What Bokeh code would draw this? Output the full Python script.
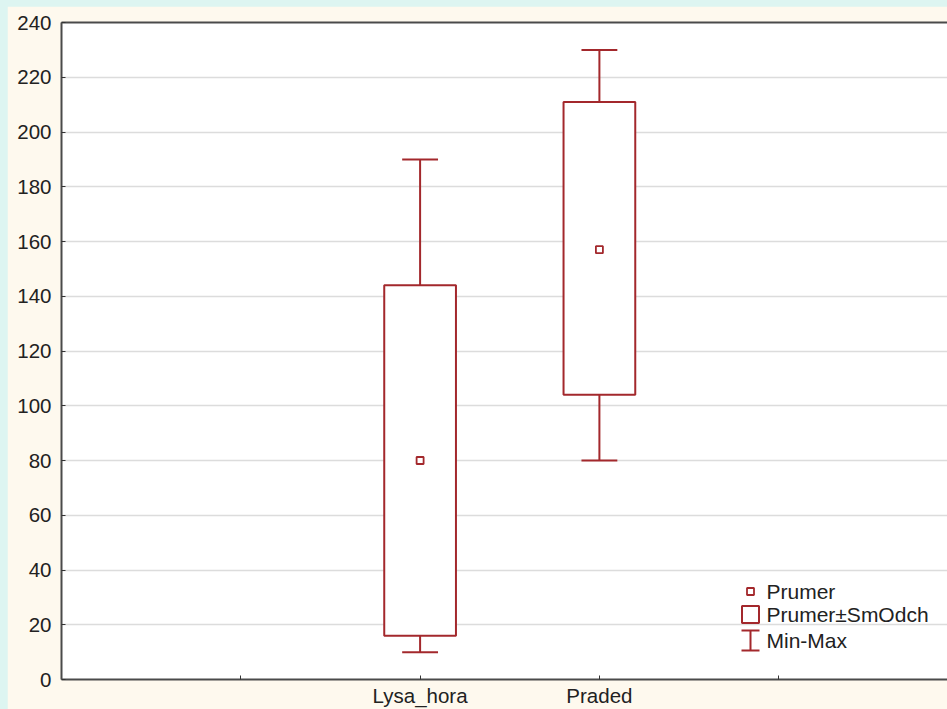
from bokeh.plotting import figure
from bokeh.models import FixedTicker, LinearAxis, Range1d, ColumnDataSource
from bokeh.embed import file_html
from bokeh.resources import INLINE
from bokeh.core.properties import value

# ---- data ----
categories = ["Lysa_hora", "Praded"]
means = [80, 157]
sd_low = [16, 104]
sd_high = [144, 211]
mins = [10, 80]
maxs = [190, 230]
y_ticks = list(range(0, 241, 20))
legend_labels = ["Prumer", "Prumer\u00b1SmOdch", "Min-Max"]

# ---- layout / style ----
FONT = "Liberation Sans"
RED = "#a3282c"
OX, OY = 7, 6          # page offset (mint strip)
W, H = 947 - OX, 709 - OY
BL, BR, BT, BB = 54, 0, 16, 30
FRAME_W = W - BL - BR
FRAME_H = H - BT - BB
STEP_PX = 179.3
X_END = FRAME_W / STEP_PX
Y_END = 240

positions = [i + 2 for i in range(len(categories))]
x_ticks = [1] + positions + [positions[-1] + 1]
overrides = {t: "" for t in x_ticks}
for pos, c in zip(positions, categories):
    overrides[pos] = c

p = figure(width=W, height=H, x_range=Range1d(0, X_END), y_range=Range1d(0, Y_END),
           output_backend="svg", toolbar_location=None,
           min_border_left=BL, min_border_right=BR, min_border_top=BT, min_border_bottom=BB,
           background_fill_color="white", border_fill_color="#fef9ee",
           outline_line_color=None)

# axes
for ax in (p.xaxis[0], p.yaxis[0]):
    ax.axis_line_color = "#4a4a4a"
    ax.axis_line_width = 2
    ax.major_tick_line_color = "#333333"
    ax.major_tick_in = 4
    ax.major_tick_out = 0
    ax.minor_tick_line_color = None
    ax.major_label_text_font = FONT
    ax.major_label_text_font_size = "20.5px"
    ax.major_label_text_color = "#222222"

p.yaxis.ticker = FixedTicker(ticks=y_ticks)
p.yaxis.major_label_standoff = 10
p.xaxis.ticker = FixedTicker(ticks=x_ticks)
p.xaxis.major_label_overrides = overrides
p.xaxis.major_label_standoff = 4

top = LinearAxis(ticker=FixedTicker(ticks=[]), major_tick_in=0, major_tick_out=0,
                 major_label_text_font_size="0px", major_label_standoff=0,
                 axis_line_color="#4a4a4a", axis_line_width=2, minor_tick_line_color=None)
p.add_layout(top, "above")

p.xgrid.visible = False
p.ygrid.ticker = FixedTicker(ticks=y_ticks)
p.ygrid.grid_line_color = "#dcdcdc"
p.ygrid.grid_line_width = 1.5

# ---- data marks ----
src = ColumnDataSource(dict(x=positions, mean=means, lo=sd_low, hi=sd_high, mn=mins, mx=maxs,
                            cl=[x - 0.1 for x in positions], cr=[x + 0.1 for x in positions]))
p.segment(x0="x", y0="hi", x1="x", y1="mx", source=src, line_color=RED, line_width=2)
p.segment(x0="x", y0="lo", x1="x", y1="mn", source=src, line_color=RED, line_width=2)
p.segment(x0="cl", y0="mx", x1="cr", y1="mx", source=src, line_color=RED, line_width=2)
p.segment(x0="cl", y0="mn", x1="cr", y1="mn", source=src, line_color=RED, line_width=2)
p.vbar(x="x", bottom="lo", top="hi", width=0.4, source=src,
       fill_color="white", line_color=RED, line_width=2)
p.scatter(x="x", y="mean", source=src, marker="square", size=7,
          fill_color="white", line_color=RED, line_width=1.8)

# ---- pixel layout helpers (legend) ----
def dx(px):
    return (px - (OX + BL)) / FRAME_W * X_END

def dy(py):
    return ((OY + BT + FRAME_H) - py) / FRAME_H * Y_END

LX = 750
rows = [591, 614, 640]
p.scatter(x=[dx(LX)], y=[dy(rows[0])], marker="square", size=7,
          fill_color="white", line_color=RED, line_width=1.8)
p.rect(x=[dx(LX)], y=[dy(rows[1])], width=17, height=17, width_units="screen",
       height_units="screen", fill_color="white", line_color=RED, line_width=2)
p.segment(x0=[dx(LX), dx(LX - 9), dx(LX - 9)], y0=[dy(630), dy(630), dy(650)],
          x1=[dx(LX), dx(LX + 9), dx(LX + 9)], y1=[dy(650), dy(630), dy(650)],
          line_color=RED, line_width=2)
p.text(x=[dx(766)] * 3, y=[dy(r) for r in rows], text=legend_labels,
       text_font=value(FONT), text_font_size="21px", text_color="#222222",
       text_baseline="middle", text_align="left")

html = file_html(p, INLINE)
style = ("<style>html,body{margin:0;background:#ddf5f1;}"
         "body{padding:%dpx 0 0 %dpx;overflow:hidden;}</style></head>" % (OY, OX))
html = html.replace("</head>", style, 1)
open("out.html", "w").write(html)
